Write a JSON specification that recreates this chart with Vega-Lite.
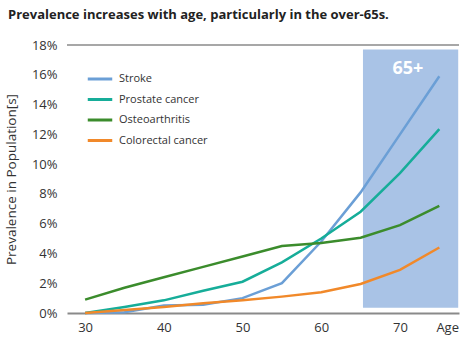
{
  "$schema": "https://vega.github.io/schema/vega-lite/v6.json",
  "autosize": "none",
  "width": 392,
  "height": 268,
  "padding": {"left": 67, "top": 45, "right": 10, "bottom": 34},
  "background": "white",
  "title": {
    "text": "Prevalence increases with age, particularly in the over-65s.",
    "anchor": "start",
    "frame": "group",
    "dx": -59,
    "offset": 17,
    "fontSize": 13,
    "fontWeight": "bold",
    "font": "Open Sans",
    "color": "#222222"
  },
  "config": {
    "view": {"stroke": null},
    "font": "Open Sans"
  },
  "datasets": {
    "series": [
      {"age": 30, "disease": "Stroke", "value": 0},
      {"age": 35, "disease": "Stroke", "value": 0.0005},
      {"age": 40, "disease": "Stroke", "value": 0.005},
      {"age": 45, "disease": "Stroke", "value": 0.0055},
      {"age": 50, "disease": "Stroke", "value": 0.01},
      {"age": 55, "disease": "Stroke", "value": 0.02},
      {"age": 60, "disease": "Stroke", "value": 0.048},
      {"age": 65, "disease": "Stroke", "value": 0.081},
      {"age": 70, "disease": "Stroke", "value": 0.12},
      {"age": 75, "disease": "Stroke", "value": 0.159},
      {"age": 30, "disease": "Prostate cancer", "value": 0},
      {"age": 35, "disease": "Prostate cancer", "value": 0.004},
      {"age": 40, "disease": "Prostate cancer", "value": 0.0085},
      {"age": 45, "disease": "Prostate cancer", "value": 0.015},
      {"age": 50, "disease": "Prostate cancer", "value": 0.021},
      {"age": 55, "disease": "Prostate cancer", "value": 0.034},
      {"age": 60, "disease": "Prostate cancer", "value": 0.05},
      {"age": 65, "disease": "Prostate cancer", "value": 0.068},
      {"age": 70, "disease": "Prostate cancer", "value": 0.094},
      {"age": 75, "disease": "Prostate cancer", "value": 0.1235},
      {"age": 30, "disease": "Osteoarthritis", "value": 0.009},
      {"age": 35, "disease": "Osteoarthritis", "value": 0.017},
      {"age": 40, "disease": "Osteoarthritis", "value": 0.024},
      {"age": 45, "disease": "Osteoarthritis", "value": 0.031},
      {"age": 50, "disease": "Osteoarthritis", "value": 0.038},
      {"age": 55, "disease": "Osteoarthritis", "value": 0.045},
      {"age": 60, "disease": "Osteoarthritis", "value": 0.047},
      {"age": 65, "disease": "Osteoarthritis", "value": 0.0505},
      {"age": 70, "disease": "Osteoarthritis", "value": 0.059},
      {"age": 75, "disease": "Osteoarthritis", "value": 0.072},
      {"age": 30, "disease": "Colorectal cancer", "value": 0},
      {"age": 35, "disease": "Colorectal cancer", "value": 0.002},
      {"age": 40, "disease": "Colorectal cancer", "value": 0.004},
      {"age": 45, "disease": "Colorectal cancer", "value": 0.0065},
      {"age": 50, "disease": "Colorectal cancer", "value": 0.0085},
      {"age": 55, "disease": "Colorectal cancer", "value": 0.011},
      {"age": 60, "disease": "Colorectal cancer", "value": 0.014},
      {"age": 65, "disease": "Colorectal cancer", "value": 0.0195},
      {"age": 70, "disease": "Colorectal cancer", "value": 0.029},
      {"age": 75, "disease": "Colorectal cancer", "value": 0.044}
    ],
    "band": [{"start": 65.3, "end": 77.4, "low": 0.0035, "high": 0.177, "label": "65+", "labelAge": 71, "labelY": 0.164}]
  },
  "layer": [
    {
      "data": {"name": "band"},
      "mark": {"type": "rect", "color": "#a9c3e6"},
      "encoding": {
        "x": {
          "field": "start",
          "type": "quantitative",
          "scale": {"domain": [27.7, 77.5], "nice": false, "zero": false},
          "axis": {
            "values": [30, 40, 50, 60, 70, 76],
            "labelExpr": "datum.value == 76 ? 'Age' : datum.label",
            "labelOverlap": false,
            "title": null,
            "grid": false,
            "ticks": false,
            "domainColor": "#8a8a8a",
            "domainWidth": 2,
            "labelFontSize": 13,
            "labelColor": "#333333",
            "labelPadding": 8,
            "labelFont": "Open Sans"
          }
        },
        "x2": {"field": "end"},
        "y": {
          "field": "low",
          "type": "quantitative",
          "scale": {"domain": [0, 0.18], "nice": false},
          "axis": {
            "tickCount": 9,
            "format": ".0%",
            "labelOverlap": false,
            "title": "Prevalence in  Population[s]",
            "titleFontSize": 13.5,
            "titleFontWeight": "normal",
            "titleColor": "#333333",
            "titleFont": "Open Sans",
            "titlePadding": 13,
            "grid": false,
            "ticks": false,
            "domain": false,
            "labelFontSize": 13,
            "labelColor": "#333333",
            "labelPadding": 10,
            "labelFont": "Open Sans"
          }
        },
        "y2": {"field": "high"}
      }
    },
    {
      "data": {"name": "band"},
      "mark": {"type": "text", "color": "white", "fontSize": 18, "fontWeight": "bold", "font": "Open Sans"},
      "encoding": {
        "x": {"field": "labelAge", "type": "quantitative"},
        "y": {"field": "labelY", "type": "quantitative"},
        "text": {"field": "label"}
      }
    },
    {
      "data": {"values": [{"v": 0.18}]},
      "mark": {"type": "rule", "color": "#8a8a8a", "strokeWidth": 1.5},
      "encoding": {"y": {"field": "v", "type": "quantitative"}}
    },
    {
      "data": {"name": "series"},
      "mark": {"type": "line", "strokeWidth": 2.5},
      "encoding": {
        "x": {"field": "age", "type": "quantitative"},
        "y": {"field": "value", "type": "quantitative"},
        "color": {
          "field": "disease",
          "type": "nominal",
          "sort": ["Stroke", "Prostate cancer", "Osteoarthritis", "Colorectal cancer"],
          "scale": {
            "domain": ["Stroke", "Prostate cancer", "Osteoarthritis", "Colorectal cancer"],
            "range": ["#6b9fd6", "#16ad99", "#3b8c2c", "#f1892a"]
          },
          "legend": {
            "orient": "none",
            "legendX": 19,
            "legendY": 20,
            "title": null,
            "symbolType": "stroke",
            "symbolSize": 600,
            "symbolStrokeWidth": 3,
            "labelFontSize": 11,
            "labelColor": "#333333",
            "labelFont": "Open Sans",
            "rowPadding": 0.5,
            "labelOffset": 5
          }
        }
      }
    }
  ]
}
